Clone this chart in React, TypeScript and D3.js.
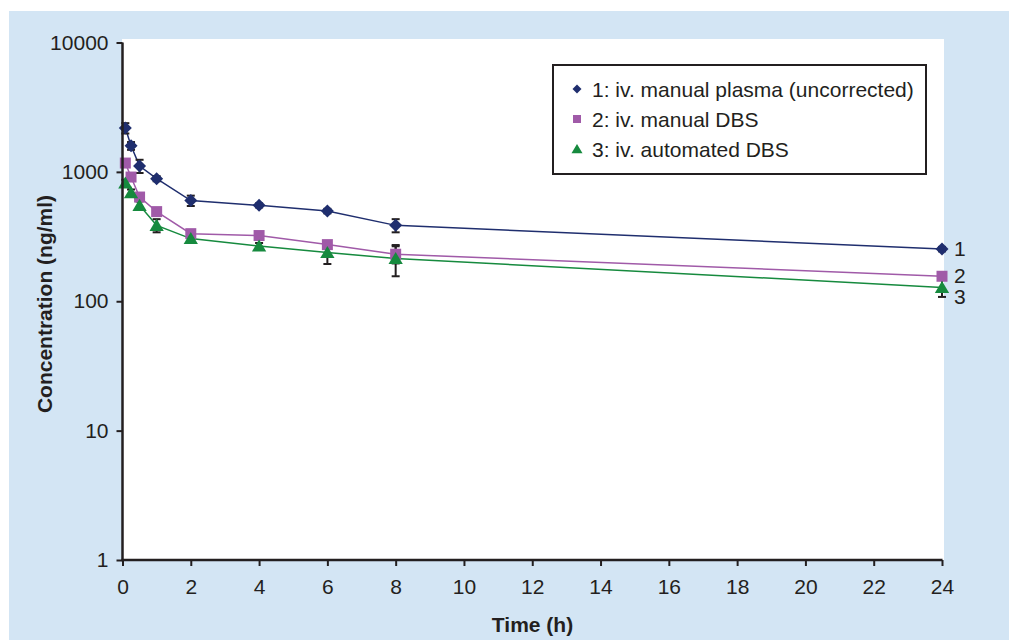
import React, { useEffect, useRef } from 'react';
import * as d3 from 'd3';

// sampling times (h)
const times = [0.083, 0.25, 0.5, 1, 2, 4, 6, 8, 24];

// mean concentrations (ng/ml)
const plasmaManual = [2180, 1590, 1110, 886, 600, 551, 498, 386, 253];
const dbsManual = [1170, 912, 639, 493, 333, 322, 274, 231, 156];
const dbsAutomated = [819, 691, 551, 386, 305, 267, 238, 214, 128];

// standard deviations
const plasmaManualSd = [200, 110, 130, 40, 55, 20, 20, 45, 10];
const dbsManualSd = [60, 40, 40, 25, 20, 15, 15, 35, 8];
const dbsAutomatedSd = [50, 40, 40, 45, 15, 15, 44, 58, 20];

const legendLabels = [
  '1: iv. manual plasma (uncorrected)',
  '2: iv. manual DBS',
  '3: iv. automated DBS',
];
const endLabels = ['1', '2', '3'];
const yTicks = [1, 10, 100, 1000, 10000];
const xTicks = [0, 2, 4, 6, 8, 10, 12, 14, 16, 18, 20, 22, 24];

const colors = ['#1f2e6e', '#a05aa8', '#168a3e'];
const ink = '#231f20';
const font = '"Liberation Sans", Arial, sans-serif';

function markerPath(kind: number, s: number) {
  if (kind === 0) return `M0,${-s}L${s},0L0,${s}L${-s},0Z`;
  if (kind === 1) return `M${-s},${-s}H${s}V${s}H${-s}Z`;
  return `M0,${-s}L${s * 1.1},${s * 0.85}H${-s * 1.1}Z`;
}

export default function App() {
  const ref = useRef<SVGSVGElement>(null);

  useEffect(() => {
    const svg = d3.select(ref.current);
    svg.selectAll('*').remove();

    const x = d3.scaleLinear().domain([0, 24]).range([122.5, 942]);
    const y = d3.scaleLog().domain([1, 10000]).range([560, 42.5]);

    svg.append('rect').attr('x', 9).attr('y', 11).attr('width', 1000).attr('height', 629).attr('fill', '#d3e5f4');
    svg.append('rect').attr('x', 122).attr('y', 39).attr('width', 822).attr('height', 521).attr('fill', '#fff');

    const series = [
      { values: plasmaManual, sd: plasmaManualSd },
      { values: dbsManual, sd: dbsManualSd },
      { values: dbsAutomated, sd: dbsAutomatedSd },
    ];

    const line = d3.line<number>()
      .x((d, i) => x(times[i]))
      .y(d => y(d));

    series.forEach((s, k) => {
      svg.append('path')
        .attr('d', line(s.values))
        .attr('fill', 'none')
        .attr('stroke', colors[k])
        .attr('stroke-width', 1.5);
    });

    // error bars
    series.forEach(s => {
      const g = svg.append('g').attr('stroke', ink).attr('stroke-width', 2);
      s.values.forEach((v, i) => {
        const cx = x(times[i]);
        const y0 = y(v + s.sd[i]);
        const y1 = y(v - s.sd[i]);
        g.append('line').attr('x1', cx).attr('x2', cx).attr('y1', y0).attr('y2', y1);
        g.append('line').attr('x1', cx - 4).attr('x2', cx + 4).attr('y1', y0).attr('y2', y0);
        g.append('line').attr('x1', cx - 4).attr('x2', cx + 4).attr('y1', y1).attr('y2', y1);
      });
    });

    const sizes = [6.5, 5.5, 6.5];
    series.forEach((s, k) => {
      svg.append('g').selectAll('path')
        .data(s.values)
        .enter()
        .append('path')
        .attr('transform', (d, i) => `translate(${x(times[i])},${y(d)})`)
        .attr('d', markerPath(k, sizes[k]))
        .attr('fill', colors[k]);
    });

    // axes
    const yAxis = d3.axisLeft(y).tickValues(yTicks).tickFormat(d3.format('d')).tickSize(6).tickSizeOuter(0).tickPadding(8);
    const xAxis = d3.axisBottom(x).tickValues(xTicks).tickFormat(d3.format('d')).tickSize(6).tickSizeOuter(0).tickPadding(13);

    const ya = svg.append('g').attr('transform', 'translate(122.5,0)').call(yAxis);
    const xa = svg.append('g').attr('transform', 'translate(0,560)').call(xAxis);
    [ya, xa].forEach(a => {
      a.select('.domain').attr('stroke', ink).attr('stroke-width', 2.5);
      a.selectAll('.tick line').attr('stroke', ink).attr('stroke-width', 2);
      a.selectAll('.tick text').attr('fill', ink).style('font-family', font).style('font-size', '21px');
    });
    ya.select('.domain').attr('d', 'M0,42.5V561');
    xa.select('.domain').attr('d', 'M121.5,0H942.5');

    svg.append('text')
      .attr('transform', 'translate(52,304) rotate(-90)')
      .attr('text-anchor', 'middle')
      .style('font-family', font).style('font-size', '21px').style('font-weight', 'bold')
      .attr('fill', ink)
      .text('Concentration (ng/ml)');

    svg.append('text')
      .attr('x', 532.5).attr('y', 632)
      .attr('text-anchor', 'middle')
      .style('font-family', font).style('font-size', '21px').style('font-weight', 'bold')
      .attr('fill', ink)
      .text('Time (h)');

    // legend
    svg.append('rect').attr('x', 553).attr('y', 65).attr('width', 373).attr('height', 109)
      .attr('fill', '#fff').attr('stroke', ink).attr('stroke-width', 2);
    const rows = [89, 119, 149];
    const legSizes = [4.5, 4, 5];
    legendLabels.forEach((lab, k) => {
      svg.append('path')
        .attr('transform', `translate(577,${rows[k]})`)
        .attr('d', markerPath(k, legSizes[k]))
        .attr('fill', colors[k]);
      svg.append('text')
        .attr('x', 592).attr('y', rows[k] + 7.5)
        .style('font-family', font).style('font-size', '21px')
        .attr('fill', ink)
        .text(lab);
    });

    // end labels
    series.forEach((s, k) => {
      const last = s.values[s.values.length - 1];
      const offs = [7, 7, 17];
      svg.append('text')
        .attr('x', 954).attr('y', y(last) + offs[k])
        .style('font-family', font).style('font-size', '21px')
        .attr('fill', ink)
        .text(endLabels[k]);
    });
  }, []);

  return (
    <svg ref={ref} width={1009} height={641}
      style={{ position: 'absolute', left: 0, top: 0, display: 'block' }} />
  );
}
